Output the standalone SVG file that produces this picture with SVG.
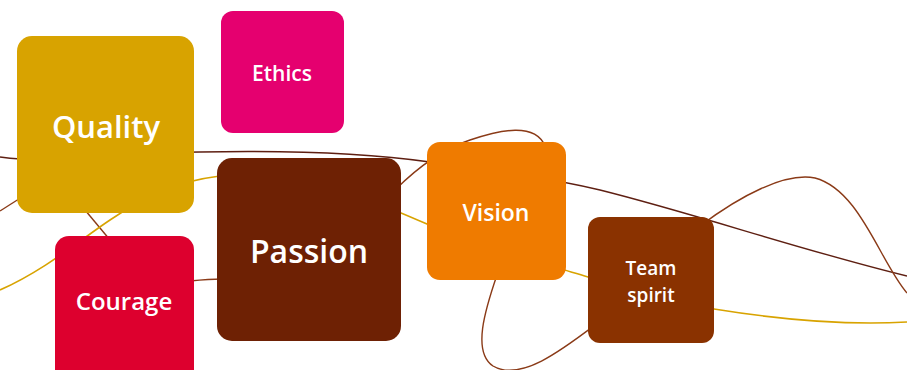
<svg xmlns="http://www.w3.org/2000/svg" width="907" height="370" viewBox="0 0 907 370">
<style>
.ln{fill:none;stroke-width:1.4}
.dk{stroke:#5e1f12}
.br{stroke:#8a3a17}
.gd{stroke:#d8a300;stroke-width:1.6}
.lbl{font-family:"Open Sans","Noto Sans",sans-serif;font-weight:600;fill:#fff;text-anchor:middle}
</style>
<rect width="907" height="370" fill="#fff"/>
<g id="connectors">
<path class="ln dk" d="M0,157 C60,165 120,152 200,152 C300,150 380,155 430,162 C490,170 550,178 600,190 C700,215 800,250 907,276"/>
<path class="ln br" d="M0,211 L22,197"/>
<path class="ln br" d="M85,210 L110,240"/>
<path class="ln br" d="M190,281 C200,280 210,279 222,279"/>
<path class="ln gd" d="M0,290 C45,270 80,240 110,220 S170,182 220,176 C300,170 360,195 427,224 C480,247 540,262 588,277 C640,293 680,305 714,309 C770,318 840,326 907,322"/>
<path class="ln br" d="M395,190 C415,170 440,150 470,140 C500,130 535,122 545,146"/>
<path class="ln br" d="M497,275 C485,310 472,352 493,366 C520,382 562,350 595,325"/>
<path class="ln br" d="M700,226 C740,196 785,172 815,178 C860,190 880,262 907,293"/>
</g>
<g id="quality">
<rect x="17" y="36" width="177" height="177" rx="15" fill="#d8a300"/>
<text class="lbl" x="106" y="138" font-size="31">Quality</text>
</g>
<g id="ethics">
<rect x="221" y="11" width="123" height="122" rx="12" fill="#e5006f"/>
<text class="lbl" x="282" y="81" font-size="21">Ethics</text>
</g>
<g id="courage">
<rect x="55" y="236" width="139" height="150" rx="14" fill="#dd002e"/>
<text class="lbl" x="124" y="310" font-size="24">Courage</text>
</g>
<g id="passion">
<rect x="217" y="158" width="184" height="183" rx="15" fill="#6e2104"/>
<text class="lbl" x="309" y="263" font-size="32">Passion</text>
</g>
<g id="vision">
<rect x="427" y="142" width="139" height="138" rx="13" fill="#ef7b00"/>
<text class="lbl" x="496" y="221" font-size="23">Vision</text>
</g>
<g id="team-spirit">
<rect x="588" y="217" width="126" height="126" rx="12" fill="#8a3200"/>
<text class="lbl" x="651" y="275" font-size="19">Team</text>
<text class="lbl" x="651" y="302" font-size="19">spirit</text>
</g>
</svg>
